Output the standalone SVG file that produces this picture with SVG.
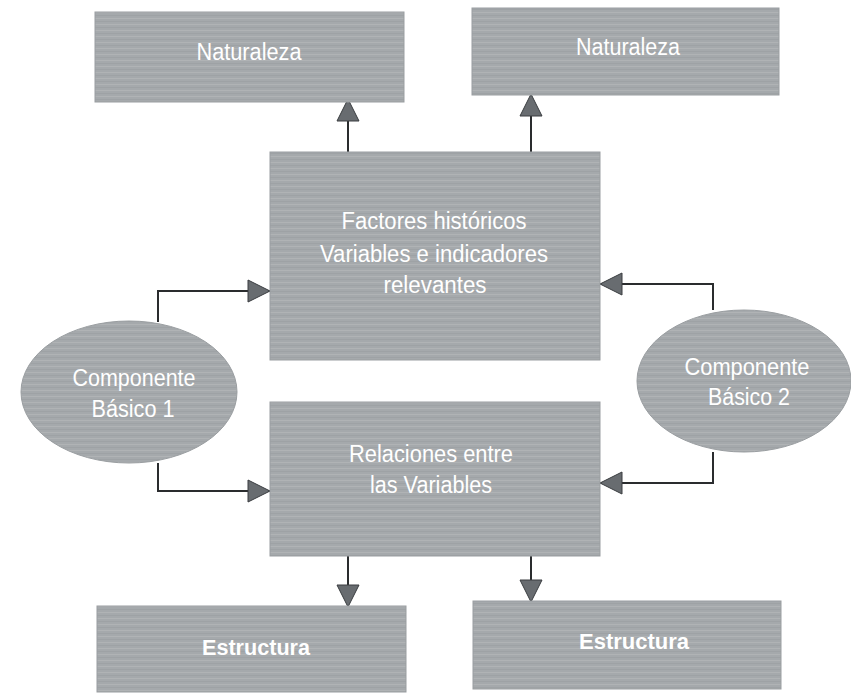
<svg xmlns="http://www.w3.org/2000/svg" width="851" height="694" viewBox="0 0 851 694">
  <defs>
    <!-- fine horizontal banding used on every shape fill -->
    <pattern id="band" width="8" height="6" patternUnits="userSpaceOnUse">
      <rect width="8" height="6" fill="#a5a9ac"/>
      <rect y="0" width="8" height="1" fill="#b0b3b5"/>
      <rect y="3" width="8" height="1" fill="#9ea2a5"/>
    </pattern>
    <marker id="tri" viewBox="0 0 24 24" refX="23" refY="12" markerWidth="24" markerHeight="24" markerUnits="userSpaceOnUse" orient="auto">
      <path d="M1,1 L23,12 L1,23 Z" fill="#686c70" stroke="#3a3d40" stroke-width="1"/>
    </marker>
  </defs>
  <style>
    .box { fill: url(#band); stroke: #9a9ea1; stroke-width: 1; }
    .lbl { font-family: "Liberation Sans", Arial, sans-serif; font-size: 23px; fill: #ffffff; text-anchor: middle; }
    .bold { font-weight: bold; font-size: 22px; }
    .conn { fill: none; stroke: #2a2c2e; stroke-width: 2; marker-end: url(#tri); }
  </style>

  <rect width="851" height="694" fill="#ffffff"/>

  <g id="connectors">
    <path class="conn" d="M348,152 V99"/>
    <path class="conn" d="M531,152 V94"/>
    <path class="conn" d="M158,322 V291 H270"/>
    <path class="conn" d="M158,463 V491 H270"/>
    <path class="conn" d="M713,310 V284 H600"/>
    <path class="conn" d="M713,452 V483 H600"/>
    <path class="conn" d="M348,556 V607"/>
    <path class="conn" d="M531,556 V602"/>
  </g>

  <g id="naturaleza-1">
    <rect class="box" x="95" y="12" width="309" height="90"/>
    <text class="lbl" x="249" y="60" textLength="105" lengthAdjust="spacingAndGlyphs">Naturaleza</text>
  </g>
  <g id="naturaleza-2">
    <rect class="box" x="472" y="8" width="307" height="87"/>
    <text class="lbl" x="628" y="55" textLength="104" lengthAdjust="spacingAndGlyphs">Naturaleza</text>
  </g>
  <g id="factores">
    <rect class="box" x="270" y="152" width="330" height="208"/>
    <text class="lbl" x="434" y="229" textLength="185" lengthAdjust="spacingAndGlyphs">Factores históricos</text>
    <text class="lbl" x="434" y="262" textLength="228" lengthAdjust="spacingAndGlyphs">Variables e indicadores</text>
    <text class="lbl" x="435" y="293" textLength="103" lengthAdjust="spacingAndGlyphs">relevantes</text>
  </g>
  <g id="relaciones">
    <rect class="box" x="270" y="402" width="330" height="154"/>
    <text class="lbl" x="431" y="462" textLength="164" lengthAdjust="spacingAndGlyphs">Relaciones entre</text>
    <text class="lbl" x="431" y="493" textLength="122" lengthAdjust="spacingAndGlyphs">las Variables</text>
  </g>
  <g id="componente-1">
    <ellipse class="box" cx="129" cy="392" rx="108" ry="71"/>
    <text class="lbl" x="134" y="386" textLength="123" lengthAdjust="spacingAndGlyphs">Componente</text>
    <text class="lbl" x="133" y="417" textLength="83" lengthAdjust="spacingAndGlyphs">Básico 1</text>
  </g>
  <g id="componente-2">
    <ellipse class="box" cx="744" cy="381" rx="107" ry="71"/>
    <text class="lbl" x="747" y="375" textLength="125" lengthAdjust="spacingAndGlyphs">Componente</text>
    <text class="lbl" x="749" y="405" textLength="82" lengthAdjust="spacingAndGlyphs">Básico 2</text>
  </g>
  <g id="estructura-1">
    <rect class="box" x="97" y="606" width="309" height="86"/>
    <text class="lbl bold" x="256" y="655" textLength="108" lengthAdjust="spacingAndGlyphs">Estructura</text>
  </g>
  <g id="estructura-2">
    <rect class="box" x="473" y="601" width="308" height="88"/>
    <text class="lbl bold" x="634" y="649" textLength="110" lengthAdjust="spacingAndGlyphs">Estructura</text>
  </g>
</svg>
